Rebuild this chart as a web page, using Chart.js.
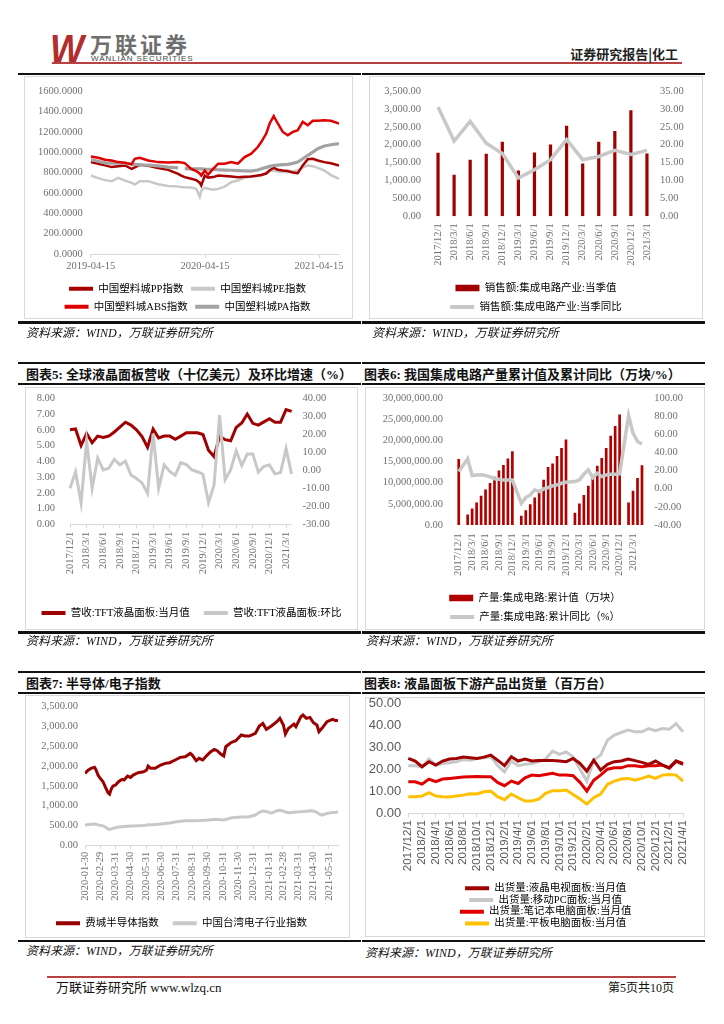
<!DOCTYPE html>
<html lang="zh-CN">
<head>
<meta charset="utf-8">
<title>证券研究报告 化工</title>
<script src="https://cdn.jsdelivr.net/npm/chart.js@4.4.1/dist/chart.umd.min.js"></script>
<style>
  html, body { margin: 0; padding: 0; background: #fff; }
  body { width: 724px; height: 1024px; position: relative; overflow: hidden; font-family: "Liberation Serif", "Noto Sans CJK SC", serif; }
  .rule { position: absolute; background: #111; }
  .box { position: absolute; border: 1px solid #d9d9d9; box-sizing: border-box; }
  .title { position: absolute; font-size: 13px; line-height: 13px; font-weight: bold; color: #111; white-space: nowrap; }
  .source { position: absolute; font-size: 12px; line-height: 12px; font-style: italic; color: #111; white-space: nowrap; }
  canvas { position: absolute; }
</style>
</head>
<body>

<!-- header -->
<div style="position:absolute;left:50px;top:27px;font:bold italic 40px 'Liberation Sans',sans-serif;color:#b22d2d;transform:scaleX(0.9);transform-origin:left;">W</div>
<div style="position:absolute;left:90px;top:32px;font:bold 22px 'Noto Sans CJK SC',sans-serif;color:#6e6e6e;letter-spacing:3px;line-height:23px;">万联证券</div>
<div style="position:absolute;left:91px;top:55px;font:8px 'Liberation Sans',sans-serif;color:#444;line-height:8px;letter-spacing:0.9px;">WANLIAN SECURITIES</div>
<div style="position:absolute;left:52px;top:62px;width:630px;height:2px;background:#b84242;"></div>
<div style="position:absolute;right:46px;top:47px;font:bold 13px 'Noto Sans CJK SC',sans-serif;color:#222;line-height:13px;">证券研究报告|化工</div>

<!-- row 1 -->
<div class="rule" style="left:18px;top:73px;width:343px;height:2px;"></div>
<div class="rule" style="left:362px;top:73px;width:343px;height:2px;"></div>
<div class="box" style="left:24px;top:76px;width:329px;height:243px;"></div>
<div class="box" style="left:369px;top:76px;width:334px;height:243px;"></div>
<canvas id="c1" width="329" height="246" style="left:24px;top:76px;"></canvas>
<canvas id="c2" width="334" height="247" style="left:369px;top:76px;"></canvas>
<div class="rule" style="left:18px;top:321px;width:343px;height:2.5px;"></div>
<div class="rule" style="left:362px;top:321px;width:343px;height:2.5px;"></div>
<div class="source" style="left:26px;top:327px;">资料来源：WIND，万联证券研究所</div>
<div class="source" style="left:372px;top:327px;">资料来源：WIND，万联证券研究所</div>

<!-- row 2 -->
<div class="rule" style="left:18px;top:362px;width:343px;height:2px;"></div>
<div class="rule" style="left:362px;top:362px;width:343px;height:2px;"></div>
<div class="title" style="left:26px;top:367.5px;">图表5: 全球液晶面板营收（十亿美元）及环比增速（%）</div>
<div class="title" style="left:364px;top:367.5px;">图表6: 我国集成电路产量累计值及累计同比（万块/%）</div>
<div class="rule" style="left:18px;top:382.5px;width:343px;height:2px;"></div>
<div class="rule" style="left:362px;top:382.5px;width:343px;height:2px;"></div>
<div class="box" style="left:25px;top:387px;width:333px;height:243px;"></div>
<div class="box" style="left:365px;top:387px;width:340px;height:243px;"></div>
<canvas id="c5" width="333" height="242" style="left:25px;top:387px;"></canvas>
<canvas id="c6" width="340" height="246" style="left:365px;top:387px;"></canvas>
<div class="rule" style="left:18px;top:631px;width:343px;height:2.5px;"></div>
<div class="rule" style="left:362px;top:631px;width:343px;height:2.5px;"></div>
<div class="source" style="left:26px;top:635px;">资料来源：WIND，万联证券研究所</div>
<div class="source" style="left:366px;top:635px;">资料来源：WIND，万联证券研究所</div>

<!-- row 3 -->
<div class="rule" style="left:18px;top:671px;width:343px;height:2px;"></div>
<div class="rule" style="left:362px;top:671px;width:343px;height:2px;"></div>
<div class="title" style="left:26px;top:677px;">图表7: 半导体/电子指数</div>
<div class="title" style="left:364px;top:677px;">图表8: 液晶面板下游产品出货量（百万台）</div>
<div class="rule" style="left:18px;top:691.5px;width:343px;height:2px;"></div>
<div class="rule" style="left:362px;top:692px;width:343px;height:2px;"></div>
<div class="box" style="left:25px;top:695px;width:325px;height:243px;"></div>
<div class="box" style="left:365px;top:697px;width:340px;height:240px;"></div>
<canvas id="c7" width="325" height="244" style="left:25px;top:695px;"></canvas>
<canvas id="c8" width="340" height="242" style="left:365px;top:697px;"></canvas>
<div class="rule" style="left:18px;top:939.5px;width:343px;height:2.5px;"></div>
<div class="rule" style="left:362px;top:939.5px;width:343px;height:2.5px;"></div>
<div class="source" style="left:26px;top:945px;">资料来源：WIND，万联证券研究所</div>
<div class="source" style="left:365px;top:947px;">资料来源：WIND，万联证券研究所</div>

<!-- footer -->
<div style="position:absolute;left:47px;top:976px;width:629px;height:2px;background:#b84242;"></div>
<div style="position:absolute;left:56px;top:981px;font-size:13px;line-height:14px;color:#111;">万联证券研究所 www.wlzq.cn</div>
<div style="position:absolute;right:50px;top:981px;font-size:12px;line-height:14px;color:#111;">第5页共10页</div>

<script>
// ---- chart 1: plastics city indices ----
const plasticDates = ['2019-04-15','2019-05-09','2019-05-31','2019-06-21','2019-07-12','2019-08-03','2019-08-24','2019-09-03','2019-09-19','2019-10-16','2019-11-17','2019-12-19','2020-01-20','2020-01-30','2020-02-10','2020-03-02','2020-03-18','2020-03-29','2020-04-03','2020-04-14','2020-04-25','2020-05-11','2020-05-27','2020-06-17','2020-07-08','2020-07-29','2020-08-20','2020-09-10','2020-10-01','2020-10-12','2020-10-28','2020-11-08','2020-11-21','2020-12-04','2020-12-20','2021-01-05','2021-01-21','2021-02-06','2021-02-22','2021-03-10','2021-03-26','2021-04-11','2021-05-02','2021-05-23','2021-06-18'];
const ppIndex  = [902,885,870,853,862,869,836,850,875,866,845,826,787,770,754,738,725,700,672,770,750,755,770,765,761,754,758,761,770,775,790,820,846,827,820,815,800,793,870,930,935,918,902,890,869];
const peIndex  = [770,745,725,714,748,720,700,681,715,715,685,667,662,658,655,652,640,563,620,649,640,632,639,662,704,721,748,761,765,770,800,827,815,813,805,803,810,820,850,869,862,845,820,775,738];
const absIndex = [958,945,925,918,902,895,880,935,945,918,902,899,902,898,892,836,813,790,770,820,780,836,886,886,902,886,951,985,1050,1099,1182,1281,1353,1281,1198,1165,1198,1215,1297,1264,1307,1307,1314,1307,1281];
const paIndex  = [925,910,895,892,892,890,885,879,875,872,865,853,846,null,838,836,836,836,836,833,832,830,827,824,822,818,815,813,825,836,850,860,869,873,877,880,890,902,935,968,1000,1034,1060,1072,1083];
const plasticTicks = ['2019-04-15','2020-04-15','2021-04-15'];

// ---- chart 2: IC sales by quarter ----
const quarters = ['2017/12/1','2018/3/1','2018/6/1','2018/9/1','2018/12/1','2019/3/1','2019/6/1','2019/9/1','2019/12/1','2020/3/1','2020/6/1','2020/9/1','2020/12/1','2021/3/1'];
const icSales = [1773,1157,1577,1745,2081,1279,1783,2007,2529,1475,2081,2380,2959,1755];
const icSalesYoy = [30.5,21.0,26.5,20.4,17.5,10.7,13.0,15.8,21.4,15.8,16.7,18.4,17.3,18.4];

// ---- monthly categories (charts 5, 6, 8) ----
const months = ['2017/12/1',
  '2018/1/1','2018/2/1','2018/3/1','2018/4/1','2018/5/1','2018/6/1','2018/7/1','2018/8/1','2018/9/1','2018/10/1','2018/11/1','2018/12/1',
  '2019/1/1','2019/2/1','2019/3/1','2019/4/1','2019/5/1','2019/6/1','2019/7/1','2019/8/1','2019/9/1','2019/10/1','2019/11/1','2019/12/1',
  '2020/1/1','2020/2/1','2020/3/1','2020/4/1','2020/5/1','2020/6/1','2020/7/1','2020/8/1','2020/9/1','2020/10/1','2020/11/1','2020/12/1',
  '2021/1/1','2021/2/1','2021/3/1','2021/4/1','2021/5/1'];
const bimonthTicks = ['2017/12/1','2018/2/1','2018/4/1','2018/6/1','2018/8/1','2018/10/1','2018/12/1','2019/2/1','2019/4/1','2019/6/1','2019/8/1','2019/10/1','2019/12/1','2020/2/1','2020/4/1','2020/6/1','2020/8/1','2020/10/1','2020/12/1','2021/2/1','2021/4/1'];

// ---- chart 5: TFT panel revenue ----
const panelRevenue = [6.0,6.05,5.0,5.77,5.18,5.6,5.52,5.6,5.86,6.17,6.48,6.3,6.0,5.57,4.89,6.05,5.48,5.6,5.6,5.4,5.6,5.81,5.81,5.81,5.7,4.7,4.3,5.6,5.37,5.3,6.15,6.43,7.0,6.41,6.3,6.5,6.7,6.48,6.48,7.28,7.17];
const panelMom = [-10,-0.8,-18,16,-10,6.8,0.2,1.1,6.1,3,5,-2.6,-4.6,-7,-12.8,20.3,-10,3,-0.6,-2.8,4.3,3.2,0.2,-0.8,-2.2,-18,-8.2,30.7,-5.2,0.2,10.8,2.7,9,9,-1,2.2,3,-2,-1.3,12,-2.1];

// ---- chart 6: IC output, cumulative ----
const icOutputCum = [15600000,null,2500000,3900000,5300000,6900000,8400000,9900000,11400000,12900000,14200000,15700000,17400000,
  null,2200000,3500000,4900000,6500000,8300000,10700000,13700000,14500000,16300000,18200000,20200000,
  null,2900000,5100000,7100000,9300000,11700000,14000000,15800000,18200000,21100000,23400000,26100000,
  null,5300000,8100000,11100000,14100000];
const icOutputYoy = [19,null,33,14.5,15,15.3,14.5,13,11,10.5,9.5,9.5,9.5,
  null,-16,-9.8,-6.8,-1.3,-3.2,-0.2,1.3,3.1,4.2,6,7.2,
  null,7.9,9.7,16,20.8,12.3,17.1,13.4,15.3,16,16,16.4,
  null,80.8,61.3,52.1,49.2];

// ---- chart 7: semiconductor / electronics indices ----
const semiDates = ['2020-01-30','2020-02-04','2020-02-11','2020-02-18','2020-02-21','2020-02-25','2020-02-28','2020-03-06','2020-03-11','2020-03-16','2020-03-19','2020-03-23','2020-03-26','2020-03-31','2020-04-06','2020-04-13','2020-04-17','2020-04-24','2020-04-30','2020-05-05','2020-05-15','2020-05-26','2020-06-01','2020-06-04','2020-06-09','2020-06-18','2020-06-29','2020-07-08','2020-07-17','2020-07-28','2020-08-07','2020-08-17','2020-08-27','2020-08-31','2020-09-08','2020-09-14','2020-09-21','2020-09-30','2020-10-07','2020-10-14','2020-10-20','2020-10-27','2020-11-02','2020-11-06','2020-11-16','2020-11-26','2020-12-07','2020-12-14','2020-12-23','2021-01-04','2021-01-12','2021-01-19','2021-01-26','2021-02-05','2021-02-16','2021-02-22','2021-03-01','2021-03-05','2021-03-11','2021-03-22','2021-03-26','2021-04-05','2021-04-09','2021-04-16','2021-04-23','2021-04-30','2021-05-07','2021-05-11','2021-05-17','2021-05-27','2021-06-07','2021-06-14','2021-06-18'];
const soxIndex = [1813,1880,1940,1965,1898,1771,1712,1603,1459,1324,1290,1434,1493,1518,1603,1662,1645,1746,1712,1771,1830,1855,1898,1999,1940,1940,2024,2066,2083,2151,2218,2235,2319,2277,2134,2193,2151,2277,2361,2420,2387,2302,2252,2488,2589,2640,2783,2758,2758,2825,3011,3078,2927,3011,3120,3205,3036,2808,2952,3061,2994,3247,3289,3205,3230,3095,3036,2867,2952,3120,3179,3146,3162];
const twElecIndex = [506,515,525,531,525,510,500,485,450,410,396,410,425,440,455,465,470,475,480,485,490,495,505,512,515,520,530,545,560,585,600,615,615,615,612,618,625,630,640,649,645,638,633,650,685,700,710,712,717,759,830,860,850,805,870,880,860,835,818,830,835,843,848,855,865,860,830,790,759,800,826,830,835];
const semiTicks = ['2020-01-30','2020-02-29','2020-03-31','2020-04-30','2020-05-31','2020-06-30','2020-07-31','2020-08-31','2020-09-30','2020-10-31','2020-11-30','2020-12-31','2021-01-31','2021-02-28','2021-03-31','2021-04-30','2021-05-31'];

// ---- chart 8: LCD downstream shipments ----
const tvShip       = [25.0,23.8,21.2,23.5,22.0,23.8,24.7,25.0,25.6,25.3,25.0,25.6,26.5,24.2,21.7,25.8,23.8,24.7,23.8,24.1,24.1,24.0,23.8,23.5,25.0,22.7,19.2,24.2,19.7,22.3,23.5,23.8,24.7,24.0,23.2,22.3,23.8,22.0,20.7,23.8,22.3];
const mobilePcShip = [21.7,21.7,21.2,24.7,22.0,22.7,23.0,23.5,24.5,24.2,25.0,25.3,25.8,21.8,18.9,23.8,21.7,22.3,22.7,23.5,24.7,28.3,26.8,28.0,25.8,20.1,14.7,24.2,26.5,33.3,35.6,36.8,37.9,37.1,37.1,38.6,37.6,38.6,38.3,40.9,37.1];
const notebookShip = [14.4,14.4,13.3,15.6,14.4,15.6,15.9,16.2,16.5,16.7,16.8,16.7,16.7,14.1,12.6,14.7,13.6,16.2,17.4,17.1,17.7,18.2,17.4,17.4,17.1,14.1,10.1,15.1,17.4,20.1,20.7,20.7,21.7,21.7,21.2,21.7,21.7,22.0,20.7,23.8,22.7];
const tabletShip   = [7.6,7.6,7.9,9.4,7.9,7.6,7.4,7.9,8.3,8.9,8.8,9.8,10.1,7.6,6.2,8.8,7.1,5.6,5.6,6.5,9.1,10.3,10.3,10.6,8.6,6.5,4.2,7.1,8.8,13.2,14.7,15.6,15.9,15.1,15.9,17.0,15.9,17.4,17.7,17.4,14.7];

// ---- shared settings ----
const DARK = '#a00000';
const RED = '#e00000';
const LIGHT = '#c8c8c8';
const AXIS = '#d9d9d9';

Chart.defaults.font.family = "'Liberation Serif', 'Noto Sans CJK SC', serif";
Chart.defaults.font.size = 10.5;
Chart.defaults.color = '#707070';
Chart.defaults.animation = false;
Chart.defaults.responsive = false;
Chart.defaults.devicePixelRatio = 1;
Chart.defaults.plugins.tooltip.enabled = false;
Chart.defaults.elements.point.radius = 0;
Chart.defaults.elements.line.tension = 0;

const dayNum = (s) => { const p = s.split('-').map(Number); return Date.UTC(p[0], p[1] - 1, p[2]) / 86400000; };
const fmt2 = (v) => v.toLocaleString('en-US', { minimumFractionDigits: 2, maximumFractionDigits: 2 });

function legend(padding) {
  return {
    position: 'bottom',
    labels: {
      usePointStyle: true, pointStyleWidth: 24, boxHeight: 6.5, padding: padding, color: '#404040',
      generateLabels: (chart) => chart.data.datasets.map((ds, i) => ({
        text: ds.label, datasetIndex: i, hidden: false,
        pointStyle: ds.type === 'bar' ? 'rect' : 'line',
        fillStyle: ds.type === 'bar' ? ds.backgroundColor : ds.borderColor,
        strokeStyle: ds.type === 'bar' ? ds.backgroundColor : ds.borderColor,
        lineWidth: ds.type === 'bar' ? 0 : 4
      }))
    }
  };
}

// value axis: gap between labels and plot comes from an invisible tick length
function yAxis(pos, min, max, step, fmt, gap, width) {
  return {
    position: pos, min: min, max: max,
    ticks: { stepSize: step, padding: 0, callback: fmt },
    grid: { display: false, drawTicks: true, tickLength: gap },
    border: { display: false },
    afterFit: (s) => { s.width = width; }
  };
}

function xMonths(tickList, pad, height, marks) {
  return {
    ticks: { minRotation: 90, maxRotation: 90, autoSkip: false, padding: pad },
    afterBuildTicks: (s) => { s.ticks = s.ticks.filter((t) => tickList.includes(s.getLabelForValue(t.value))); },
    grid: marks ? { display: true, drawOnChartArea: false, drawTicks: true, tickLength: 4, color: AXIS } : { display: false, drawTicks: false },
    border: { display: marks, color: AXIS },
    afterFit: (s) => { s.height = height; }
  };
}

const pts = (dates, values) => dates.map((d, i) => ({ x: dayNum(d), y: values[i] }));

// chart 1
new Chart(document.getElementById('c1'), {
  type: 'line',
  data: {
    datasets: [
      { type: 'line', label: '中国塑料城PP指数', data: pts(plasticDates, ppIndex), borderColor: '#a80000', borderWidth: 2.5, order: 3 },
      { type: 'line', label: '中国塑料城PE指数', data: pts(plasticDates, peIndex), borderColor: LIGHT, borderWidth: 2.5, order: 4 },
      { type: 'line', label: '中国塑料城ABS指数', data: pts(plasticDates, absIndex), borderColor: RED, borderWidth: 2.5, order: 1 },
      { type: 'line', label: '中国塑料城PA指数', data: pts(plasticDates, paIndex), borderColor: '#a3a3a3', borderWidth: 3.2, order: 2 }
    ]
  },
  options: {
    layout: { padding: { top: 15, right: 14, bottom: 0, left: 12 } },
    plugins: { legend: legend(7.5) },
    scales: {
      x: {
        type: 'linear', min: dayNum('2019-04-15'), max: dayNum('2021-06-18'),
        afterBuildTicks: (s) => { s.ticks = plasticTicks.map((d) => ({ value: dayNum(d) })); },
        ticks: { maxRotation: 0, autoSkip: false, padding: 2, callback: (v, i) => plasticTicks[i] },
        grid: { display: true, drawOnChartArea: false, drawTicks: true, tickLength: 4, color: AXIS },
        border: { display: true, color: AXIS },
        afterFit: (s) => { s.height = 22; }
      },
      y: yAxis('left', 0, 1600, 200, (v) => v.toFixed(4), 8, 54.7)
    }
  }
});

// chart 2
new Chart(document.getElementById('c2'), {
  type: 'bar',
  data: {
    labels: quarters,
    datasets: [
      { type: 'bar', label: '销售额:集成电路产业:当季值', data: icSales, yAxisID: 'y', backgroundColor: DARK, categoryPercentage: 1, barPercentage: 0.2, order: 2 },
      { type: 'line', label: '销售额:集成电路产业:当季同比', data: icSalesYoy, yAxisID: 'y1', borderColor: LIGHT, borderWidth: 3.5, order: 1 }
    ]
  },
  options: {
    layout: { padding: { top: 15, right: 0, bottom: 0.75, left: 0 } },
    plugins: { legend: legend(8.5) },
    scales: {
      x: xMonths(quarters, 7, 58, false),
      y: yAxis('left', 0, 3500, 500, fmt2, 9, 61),
      y1: yAxis('right', 0, 35, 5, (v) => v.toFixed(2), 5, 48)
    }
  }
});

// chart 5
new Chart(document.getElementById('c5'), {
  type: 'line',
  data: {
    labels: months.slice(0, 41),
    datasets: [
      { type: 'line', label: '营收:TFT液晶面板:当月值', data: panelRevenue, yAxisID: 'y', borderColor: DARK, borderWidth: 3, order: 2 },
      { type: 'line', label: '营收:TFT液晶面板:环比', data: panelMom, yAxisID: 'y1', borderColor: LIGHT, borderWidth: 3, order: 1 }
    ]
  },
  options: {
    layout: { padding: { top: 11.3, right: 0, bottom: 0.75, left: 0 } },
    plugins: { legend: legend(14) },
    scales: {
      x: xMonths(quarters, 3.4, 69.5, true),
      y: yAxis('left', 0, 8, 1, (v) => v.toFixed(2), 15, 45),
      y1: yAxis('right', -30, 40, 10, (v) => v.toFixed(2), 11, 66.4)
    }
  }
});

// chart 6
new Chart(document.getElementById('c6'), {
  type: 'bar',
  data: {
    labels: months,
    datasets: [
      { type: 'bar', label: '产量:集成电路:累计值（万块）', data: icOutputCum, yAxisID: 'y', backgroundColor: '#b00000', categoryPercentage: 1, barPercentage: 0.6, order: 2 },
      { type: 'line', label: '产量:集成电路:累计同比（%）', data: icOutputYoy, yAxisID: 'y1', borderColor: LIGHT, borderWidth: 3.5, spanGaps: true, order: 1 }
    ]
  },
  options: {
    layout: { padding: { top: 11, right: 0, bottom: 0.75, left: 0 } },
    plugins: { legend: legend(8.5) },
    scales: {
      x: xMonths(quarters, 8.3, 59.25, false),
      y: yAxis('left', 0, 30000000, 5000000, fmt2, 13.5, 91.5),
      y1: yAxis('right', -40, 100, 20, (v) => v.toFixed(2), 10, 60.8)
    }
  }
});

// chart 7
new Chart(document.getElementById('c7'), {
  type: 'line',
  data: {
    datasets: [
      { type: 'line', label: '费城半导体指数', data: pts(semiDates, soxIndex), borderColor: '#990000', borderWidth: 3, order: 1 },
      { type: 'line', label: '中国台湾电子行业指数', data: pts(semiDates, twElecIndex), borderColor: LIGHT, borderWidth: 3, order: 2 }
    ]
  },
  options: {
    layout: { padding: { top: 11.7, right: 12, bottom: 0.45, left: 0 } },
    plugins: { legend: legend(14) },
    scales: {
      x: {
        type: 'linear', min: dayNum('2020-01-30'), max: dayNum('2021-06-18'),
        afterBuildTicks: (s) => { s.ticks = semiTicks.map((d) => ({ value: dayNum(d) })); },
        ticks: { minRotation: 90, maxRotation: 90, autoSkip: false, padding: 2.7, callback: (v, i) => semiTicks[i] },
        grid: { display: true, drawOnChartArea: false, drawTicks: true, tickLength: 4, color: AXIS },
        border: { display: true, color: AXIS },
        afterFit: (s) => { s.height = 59; }
      },
      y: yAxis('left', 0, 3500, 500, fmt2, 7, 60)
    }
  }
});

// chart 8
const x8 = xMonths(bimonthTicks, 2.7, 68.5, true);
x8.ticks.font = { family: "'Liberation Sans', sans-serif", size: 11.5 };
x8.ticks.color = '#595959';
const y8 = yAxis('left', 0, 50, 10, (v) => v.toFixed(2), 7, 43.3);
y8.ticks.font = { family: "'Liberation Sans', sans-serif", size: 13, lineHeight: 1 };
y8.ticks.color = '#595959';
const legend8 = legend(1.2);
legend8.fullSize = false;
new Chart(document.getElementById('c8'), {
  type: 'line',
  data: {
    labels: months.slice(0, 41),
    datasets: [
      { type: 'line', label: '出货量:液晶电视面板:当月值', data: tvShip, borderColor: DARK, borderWidth: 3, order: 1 },
      { type: 'line', label: '出货量:移动PC面板:当月值', data: mobilePcShip, borderColor: LIGHT, borderWidth: 3, order: 4 },
      { type: 'line', label: '出货量:笔记本电脑面板:当月值', data: notebookShip, borderColor: RED, borderWidth: 3, order: 2 },
      { type: 'line', label: '出货量:平板电脑面板:当月值', data: tabletShip, borderColor: '#ffc000', borderWidth: 3, order: 3 }
    ]
  },
  options: {
    layout: { padding: { top: 6.3, right: 22, bottom: 0.35, left: 0 } },
    plugins: { legend: legend8 },
    scales: { x: x8, y: y8 }
  }
});
</script>
</body>
</html>
